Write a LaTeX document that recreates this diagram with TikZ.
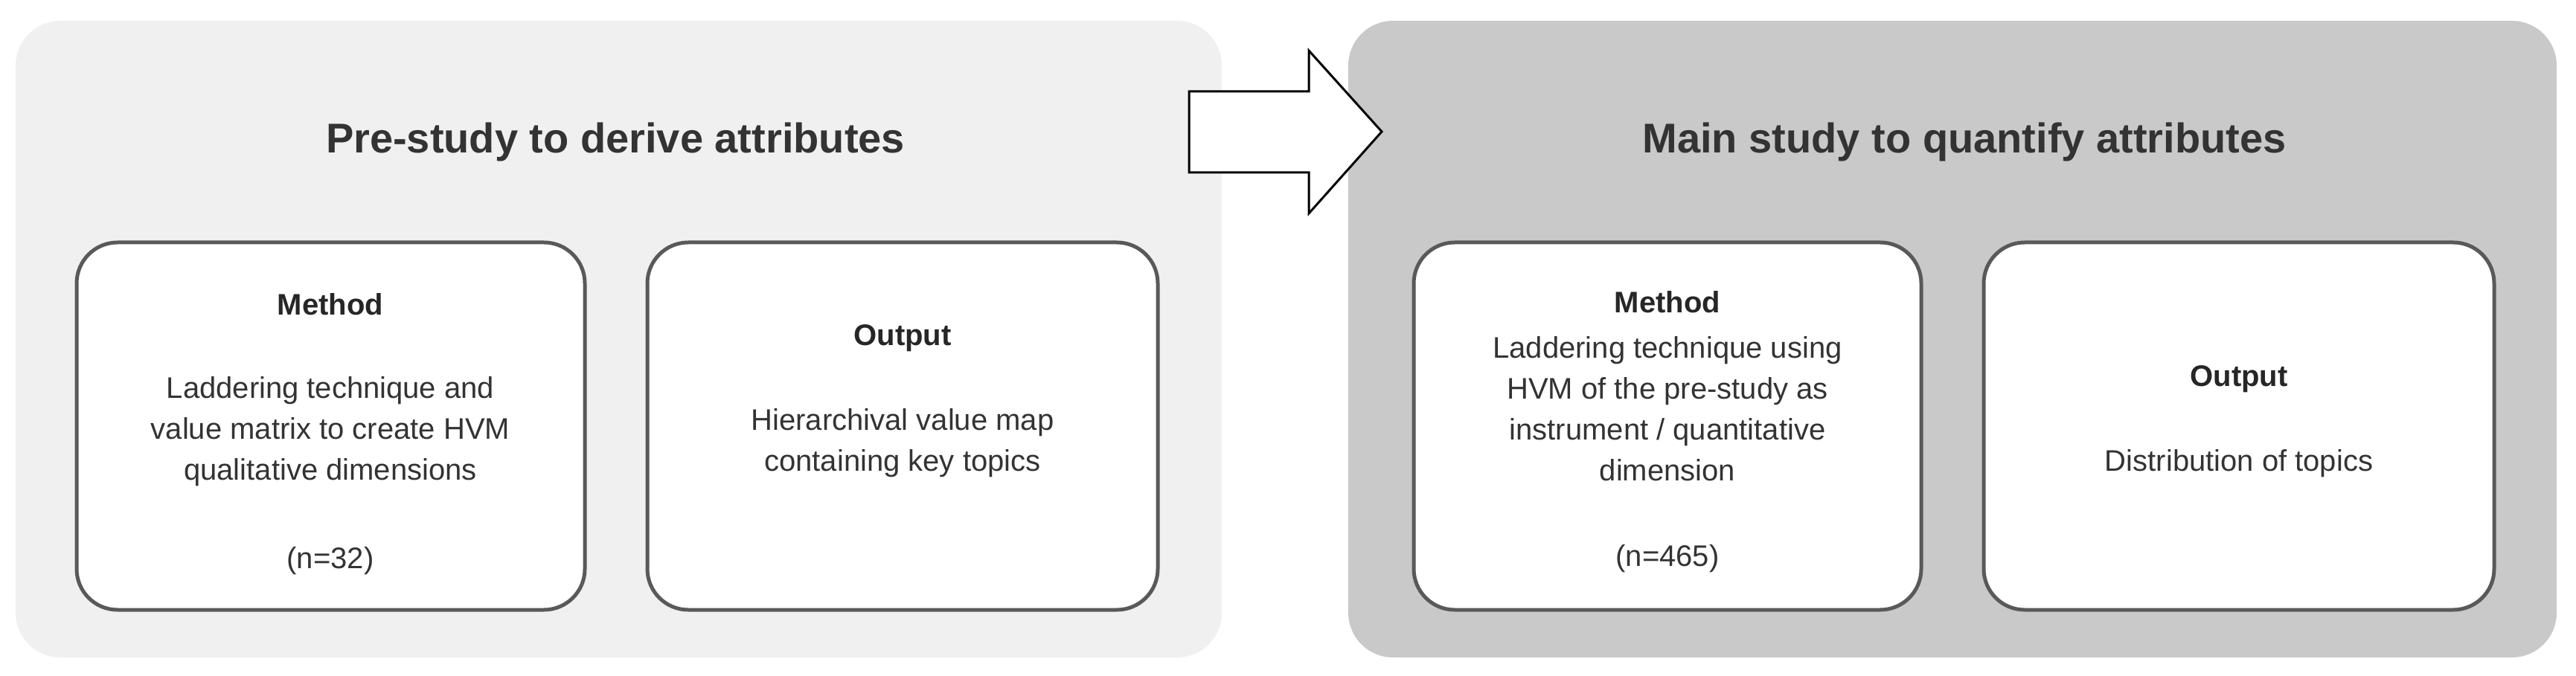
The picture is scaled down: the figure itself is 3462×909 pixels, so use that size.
\documentclass[tikz,border=0pt]{standalone}
\usepackage{fontspec}
\setmainfont{Liberation Sans}
\begin{document}
\begin{tikzpicture}[x=1pt,y=-1pt,
  panel/.style={rounded corners=60pt,draw=none},
  box/.style={draw=black!65,line width=5pt,fill=white,rounded corners=55pt},
  title/.style={font=\fontsize{56}{64}\selectfont\bfseries,text=black!80},
  head/.style={font=\fontsize{40}{55}\selectfont\bfseries,text=black!85},
  txt/.style={font=\fontsize{40}{55}\selectfont,text=black!80,align=center}]
\useasboundingbox (0,0) rectangle (3462,909);
\fill[panel,fill=black!6] (21,28) rectangle (1642,884);
\fill[panel,fill=black!21] (1812,28) rectangle (3436,884);
\draw[line width=3pt,fill=white,line join=miter] (1598,123) -- (1759,123) -- (1759,68) -- (1857,177) -- (1759,287) -- (1759,232) -- (1598,232) -- cycle;
\node[title] (t1) at (827,191) {Pre-study to derive attributes};
\node[title] (t2) at (2640,191) {Main study to quantify attributes};
\draw[box] (103,326) rectangle (786,820);
\draw[box] (870,326) rectangle (1556,820);
\draw[box] (1900,326) rectangle (2582,820);
\draw[box] (2666,326) rectangle (3352,820);
\node[head] (m1) at (444,409) {Method};
\node[txt] (m1t) at (444,580) {Laddering technique and\\value matrix to create HVM\\qualitative dimensions};
\node[txt] (m1n) at (444,754) {(n=32)};
\node[head] (o1) at (1213,455) {Output};
\node[txt] (o1t) at (1213,596) {Hierarchival value map\\containing key topics};
\node[head] (m2) at (2241,406) {Method};
\node[txt] (m2t) at (2241,550) {Laddering technique using\\HVM of the pre-study as\\instrument / quantitative\\dimension};
\node[txt] (m2n) at (2241,751) {(n=465)};
\node[head] (o2) at (3009,510) {Output};
\node[txt] (o2t) at (3009,623) {Distribution of topics};
\end{tikzpicture}
\end{document}
